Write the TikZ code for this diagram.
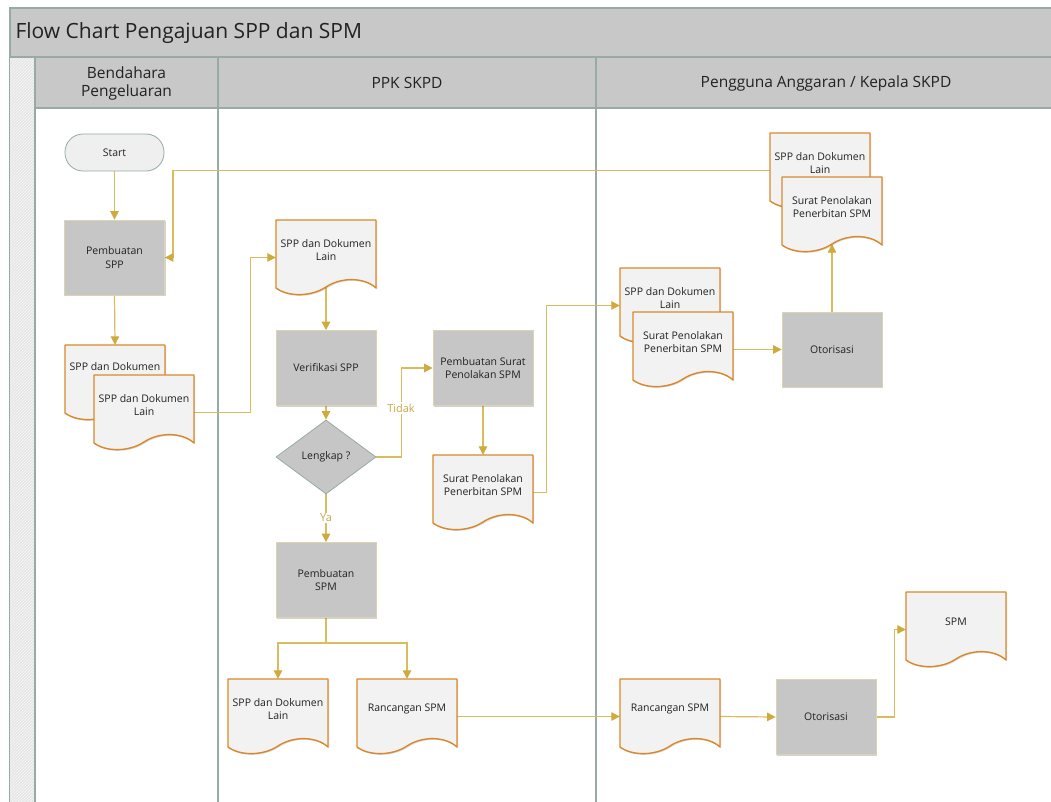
\documentclass[tikz,border=0pt]{standalone}
\usepackage{fontspec}
\setmainfont{Open Sans}
\usetikzlibrary{arrows.meta,shapes.geometric,shadows,patterns,backgrounds}
\pgfdeclarelayer{lanes}
\pgfsetlayers{lanes,background,main}

\definecolor{lanegray}{HTML}{C8C8C8}
\definecolor{laneline}{HTML}{97ABA3}
\definecolor{stripgray}{HTML}{E6E6E6}
\definecolor{boxfill}{HTML}{C6C6C6}
\definecolor{boxedge}{HTML}{DCD3B0}
\definecolor{docfill}{HTML}{F2F2F2}
\definecolor{docedge}{HTML}{D9892B}
\definecolor{flow}{HTML}{D8BC5E}
\definecolor{flowtip}{HTML}{CFAA3C}
\definecolor{labelgold}{HTML}{C9A646}
\definecolor{inktext}{HTML}{222222}
\definecolor{termfill}{HTML}{EFEFEF}

\tikzset{
  smalltext/.style={font=\fontsize{10.5}{13.5}\selectfont, text=inktext},
  process/.style={rectangle, smalltext, align=center, fill=boxfill, draw=boxedge,
    line width=0.8pt, minimum width=100pt, minimum height=75pt, inner sep=2pt,
    drop shadow={shadow xshift=1.2pt, shadow yshift=-1.2pt, opacity=0.25, fill=black!70}},
  terminal/.style={rectangle, rounded corners=18pt, smalltext, fill=termfill,
    draw=laneline, line width=0.8pt, minimum width=99pt, minimum height=37pt},
  decision/.style={diamond, smalltext, fill=boxfill, draw=laneline, line width=0.8pt,
    minimum width=100pt, minimum height=74pt, aspect=1.35, inner sep=0pt},
  docslot/.style={rectangle, minimum width=100pt, minimum height=75pt, inner sep=0pt},
  docline/.style={fill=docfill, draw=docedge, line width=1.4pt, line join=round,
    drop shadow={shadow xshift=1pt, shadow yshift=-1.2pt, opacity=0.2, fill=black!70}},
  doctext/.style={smalltext, align=center, inner sep=0pt},
  flowline/.style={draw=flow, line width=1.2pt,
    -{Triangle[length=8.5pt,width=8.5pt,color=flowtip]}},
  branchlabel/.style={font=\fontsize{11}{12}\selectfont, text=labelgold,
    fill=white, inner sep=1.5pt},
  lanehead/.style={font=\fontsize{15.5}{18}\selectfont, text=inktext, align=center},
  laneedge/.style={draw=laneline, line width=1.3pt}
}

% document symbol: rectangle with a wavy lower edge
% #1 name, #2/#3 top-left corner, #4 text offset from the top, #5 text
\newcommand\docsheet[5]{%
  \node[docslot] (#1) at (#2+50,#3+37.5) {};
  \path[docline,shift={(#2,#3)}] (0,0) -- (100,0) -- (100,68)
     .. controls (88,57) and (65,57) .. (50,67)
     .. controls (35,77) and (12,77) .. (0,68) -- cycle;
  \node[doctext] (#1-text) at (#2+50,#3+#4) {#5};
}

\begin{document}
\begin{tikzpicture}[x=1pt,y=-1pt]
\useasboundingbox (0,0) rectangle (1051,802);

% ---------- swimlane frame ----------
\begin{pgfonlayer}{lanes}
  \fill[white] (0,0) rectangle (1051,802);
  % title bar
  \fill[lanegray] (10,8) rectangle (1051,57);
  \draw[laneedge] (1051,8) -- (10,8) -- (10,802);
  % left strip
  \fill[stripgray] (10,57) rectangle (35,802);
  \fill[pattern=north east lines, pattern color=white!70!stripgray] (10,57) rectangle (35,802);
  % lane headers
  \fill[lanegray] (35,57) rectangle (1051,108);
  \draw[laneedge] (10,57) -- (1051,57);
  \draw[laneedge] (35,108) -- (1051,108);
  \draw[laneedge] (35,57) -- (35,802);
  \draw[laneedge] (218,57) -- (218,802);
  \draw[laneedge] (596,57) -- (596,802);
  \node[anchor=west, font=\fontsize{21}{24}\selectfont, text=inktext] (title) at (12,33)
    {Flow Chart Pengajuan SPP dan SPM};
  \node[lanehead] (hbend) at (126.5,83) {Bendahara\\Pengeluaran};
  \node[lanehead] (hppk) at (407,83) {PPK SKPD};
  \node[lanehead] (hpa) at (826,83) {Pengguna Anggaran / Kepala SKPD};
\end{pgfonlayer}

% ---------- Bendahara Pengeluaran ----------
\node[terminal] (start) at (114.5,152.5) {Start};
\node[process] (pspp) at (114.5,257.5) {Pembuatan\\SPP};
\docsheet{bdocA}{65}{345}{22}{SPP dan Dokumen}
\docsheet{bdocB}{94}{375}{30}{SPP dan Dokumen\\Lain}

% ---------- PPK SKPD ----------
\docsheet{ppkdoc}{276}{220}{30}{SPP dan Dokumen\\Lain}
\node[process] (verif) at (326,368) {Verifikasi SPP};
\node[decision] (cek) at (326,457) {Lengkap ?};
\node[process] (psurat) at (483,368) {Pembuatan Surat\\Penolakan SPM};
\docsheet{surdoc}{433}{455}{30}{Surat Penolakan\\Penerbitan SPM}
\node[process] (pspm) at (326,580) {Pembuatan\\SPM};
\docsheet{ppkdocb}{228}{679}{30}{SPP dan Dokumen\\Lain}
\docsheet{rancA}{357}{679}{30}{Rancangan SPM}

% ---------- Pengguna Anggaran / Kepala SKPD ----------
\docsheet{topdocA}{770}{133}{30}{SPP dan Dokumen\\Lain}
\docsheet{topdocB}{782}{177}{30}{Surat Penolakan\\Penerbitan SPM}
\docsheet{pgdocA}{620}{268}{30}{SPP dan Dokumen\\Lain}
\docsheet{pgdocB}{633}{312}{30}{Surat Penolakan\\Penerbitan SPM}
\node[process] (oto1) at (832,349.5) {Otorisasi};
\docsheet{spmdoc}{906}{592}{30}{SPM}
\docsheet{rancB}{620}{679}{30}{Rancangan SPM}
\node[process] (oto2) at (826,717) {Otorisasi};

% ---------- connectors ----------
\begin{pgfonlayer}{background}
  \draw[flowline] (start.south) -- (pspp.north);
  \draw[flowline] (pspp.south) -- (bdocA.north);
  \draw[flowline] (bdocB.east) -- ++(56,0) |- (ppkdoc.west);
  \draw[flowline] ([yshift=8pt]ppkdoc.south) -- (verif.north);
  \draw[flowline] (verif.south) -- (cek.north);
  \draw[flowline] (cek.east) -- ++(25,0) |- (psurat.west);
  \draw[flowline] (cek.south) -- (pspm.north);
  \draw[flowline] (psurat.south) -- (surdoc.north);
  \draw[flowline] (surdoc.east) -- ++(13,0) |- (pgdocA.west);
  \draw[flowline] (pgdocB.east) -- (oto1.west);
  \draw[flowline] (oto1.north) -- ([yshift=8pt]topdocB.south);
  \draw[flowline] (topdocA.west) -| ([xshift=8pt]pspp.east) -- (pspp.east);
  \draw[flowline] (pspm.south) -- ++(0,25) -| (ppkdocb.north);
  \draw[flowline] (pspm.south) -- ++(0,25) -| (rancA.north);
  \draw[flowline] (rancA.east) -- (rancB.west);
  \draw[flowline] (rancB.east) -- (oto2.west);
  \draw[flowline] (oto2.east) -- ++(18,0) |- (spmdoc.west);
\end{pgfonlayer}

\node[branchlabel] (tidak) at (401,408) {Tidak};
\node[branchlabel] (ya) at (326,518) {Ya};

\end{tikzpicture}
\end{document}
